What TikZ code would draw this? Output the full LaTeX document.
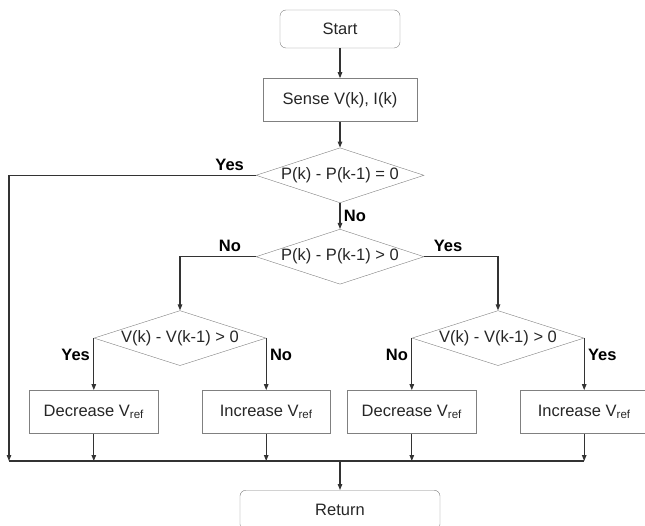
\documentclass[tikz,border=0pt]{standalone}
\usepackage{fontspec}
\setmainfont{Liberation Sans}
\usetikzlibrary{arrows.meta, positioning, shapes.geometric}

\begin{document}
\begin{tikzpicture}[
            x=1pt, y=1pt,
            node distance=26pt and 26pt,
            every node/.style={font=\fontsize{16.5}{19}\selectfont, text=black!85, align=center},
            term/.style={draw=black!50, rounded corners=6pt, minimum width=120pt, minimum height=38pt, inner sep=0pt},
            box/.style={draw=black!50, minimum width=129pt, minimum height=43pt, inner sep=0pt},
            cond/.style={draw=black!50, diamond, aspect=3, minimum width=168pt, minimum height=55pt, inner sep=0pt},
            lbl/.style={font=\fontsize{16.5}{19}\selectfont\bfseries, text=black},
            arrow/.style={-{Triangle[length=6pt,width=4.5pt]}, line width=1.1pt, draw=black!80},
            line/.style={line width=1.1pt, draw=black!80}
        ]
        \useasboundingbox (0,0) rectangle (645,-526);

        % Nodes
        \node[term] (start) at (340,-29) {Start};
        \node[box, minimum width=154pt, below=30pt of start] (sense) {Sense V(k), I(k)};
        \node[cond, below=26pt of sense] (pzero) {P(k) - P(k-1) = 0};
        \node[cond, below=26pt of pzero] (ppos) {P(k) - P(k-1) \textgreater{} 0};
        \node[cond, minimum width=172pt, below=26pt of ppos, xshift=-160pt] (vleft) {V(k) - V(k-1) \textgreater{} 0};
        \node[cond, minimum width=172pt, below=26pt of ppos, xshift=158pt] (vright) {V(k) - V(k-1) \textgreater{} 0};
        \node[box, below=52pt of vleft.west] (dec1) {Decrease V\textsubscript{ref}};
        \node[box, minimum width=128pt, below=52pt of vleft.east] (inc1) {Increase V\textsubscript{ref}};
        \node[box, below=52pt of vright.west] (dec2) {Decrease V\textsubscript{ref}};
        \node[box, minimum width=128pt, below=52pt of vright.east] (inc2) {Increase V\textsubscript{ref}};

        % Collecting line
        \coordinate (busL) at (9,-461);
        \coordinate (drop) at (start |- busL);
        \node[term, minimum width=200pt, minimum height=40pt, below=29pt of drop] (ret) {Return};

        % Connections
        \draw[arrow] (start) -- (sense);
        \draw[arrow] (sense) -- (pzero);
        \draw[arrow] (pzero) -- node[lbl, right] (no1) {No} (ppos);
        \draw[arrow] (pzero.west) -| node[lbl, above, pos=0.053, yshift=1pt] (yes1) {Yes} (busL);
        \draw[arrow] (ppos.west) -| node[lbl, above, pos=0.171, yshift=1pt] (no2) {No} (vleft.north);
        \draw[arrow] (ppos.east) -| node[lbl, above, pos=0.162, yshift=1pt] (yes2) {Yes} (vright.north);
        \draw[arrow] (vleft.west) -- node[lbl, left, pos=0.33] (yes3) {Yes} (dec1);
        \draw[arrow] (vleft.east) -- node[lbl, right, pos=0.33] (no3) {No} (inc1);
        \draw[arrow] (vright.west) -- node[lbl, left, pos=0.33] (no4) {No} (dec2);
        \draw[arrow] (vright.east) -- node[lbl, right, pos=0.33] (yes4) {Yes} (inc2);

        % Into the collecting line
        \draw[arrow] (dec1) -- (dec1 |- busL);
        \draw[arrow] (inc1) -- (inc1 |- busL);
        \draw[arrow] (dec2) -- (dec2 |- busL);
        \draw[arrow] (inc2) -- (inc2 |- busL);
        \draw[line] (busL) -- (inc2 |- busL);
        \draw[arrow] (drop) -- (ret);

    \end{tikzpicture}
\end{document}
